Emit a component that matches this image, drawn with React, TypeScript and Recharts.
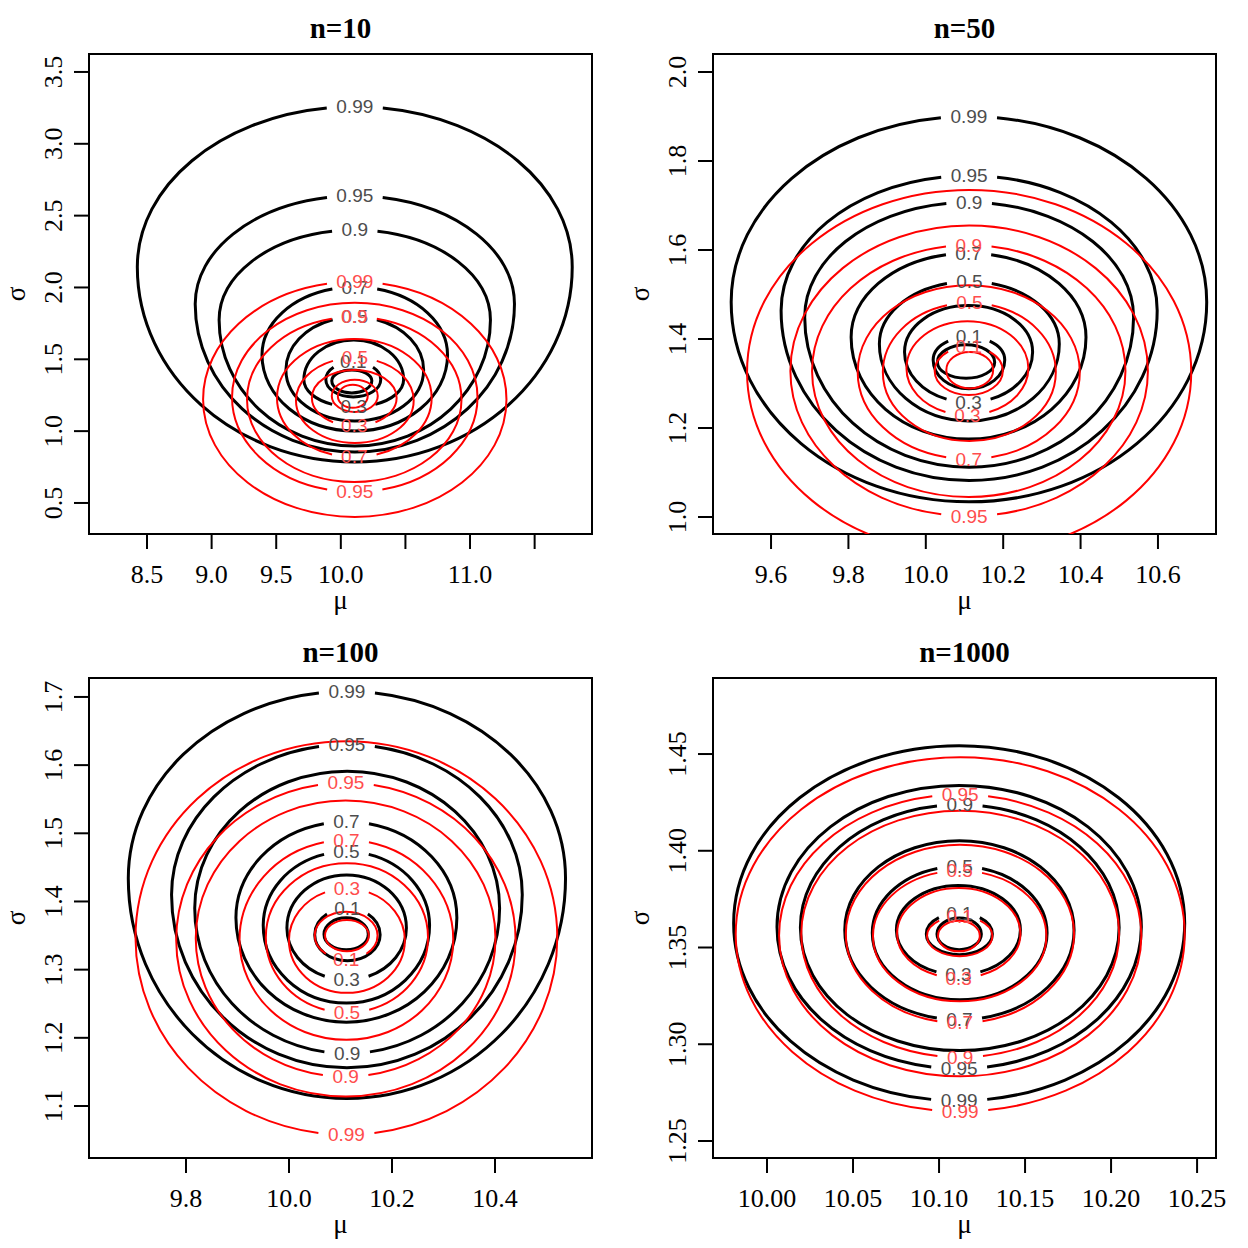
import React from "react";
import { ComposedChart, Line, Scatter, XAxis, YAxis, ReferenceArea } from "recharts";

// One contour ring:
// [label, mu at left edge, mu at right edge, sigma at top, sigma at bottom, sigma where widest, label side]
type Ring = [string, number, number, number, number, number, "t" | "b" | ""];

const n10Black: Ring[] = [
  ["0.99", 8.425, 11.791, 3.258, 0.786, 2.143, "t"],
  ["0.95", 8.873, 11.344, 2.638, 0.855, 1.885, "t"],
  ["0.9", 9.058, 11.158, 2.4, 0.897, 1.774, "t"],
  ["0.7", 9.39, 10.826, 2.003, 1.001, 1.53, "t"],
  ["0.5", 9.575, 10.641, 1.795, 1.071, 1.426, "t"],
  ["0.3", 9.714, 10.486, 1.635, 1.168, 1.357, "b"],
  ["0.1", 9.884, 10.309, 1.482, 1.238, 1.36, "t"],
  ["", 9.93, 10.24, 1.426, 1.266, 1.35, ""],
];
const n10Red: Ring[] = [
  ["0.99", 8.934, 11.282, 2.039, 0.403, 1.221, "t"],
  ["0.95", 9.158, 11.058, 1.893, 0.577, 1.235, "b"],
  ["0.9", 9.274, 10.934, 1.795, 0.646, 1.221, "t"],
  ["0.7", 9.506, 10.703, 1.642, 0.82, 1.231, "b"],
  ["0.5", 9.653, 10.564, 1.51, 0.918, 1.214, "t"],
  ["0.3", 9.776, 10.432, 1.426, 1.036, 1.231, "b"],
  ["0.1", 9.93, 10.286, 1.357, 1.134, 1.245, ""],
  ["", 9.977, 10.208, 1.322, 1.162, 1.242, ""],
];

const n50Black: Ring[] = [
  ["0.99", 9.497, 10.726, 1.9, 1.034, 1.483, "t"],
  ["0.95", 9.626, 10.598, 1.767, 1.082, 1.464, "t"],
  ["0.9", 9.687, 10.537, 1.707, 1.112, 1.449, "t"],
  ["0.7", 9.807, 10.414, 1.593, 1.175, 1.404, "t"],
  ["0.5", 9.88, 10.345, 1.529, 1.216, 1.389, "t"],
  ["0.3", 9.945, 10.276, 1.475, 1.258, 1.371, "b"],
  ["0.1", 10.019, 10.204, 1.405, 1.288, 1.353, "t"],
  ["", 10.03, 10.178, 1.387, 1.312, 1.348, ""],
];
const n50Red: Ring[] = [
  ["0.99", 9.538, 10.686, 1.735, 0.917, 1.326, ""],
  ["0.95", 9.65, 10.574, 1.655, 1.002, 1.328, "b"],
  ["0.9", 9.706, 10.516, 1.611, 1.045, 1.328, "t"],
  ["0.7", 9.824, 10.398, 1.521, 1.13, 1.326, "b"],
  ["0.5", 9.889, 10.336, 1.481, 1.171, 1.326, "t"],
  ["0.3", 9.95, 10.265, 1.44, 1.229, 1.334, "b"],
  ["0.1", 10.023, 10.199, 1.383, 1.274, 1.328, "t"],
  ["", 10.053, 10.174, 1.371, 1.289, 1.33, ""],
];

const n100Black: Ring[] = [
  ["0.99", 9.688, 10.537, 1.708, 1.111, 1.434, "t"],
  ["0.95", 9.772, 10.453, 1.63, 1.156, 1.41, "t"],
  ["0.9", 9.817, 10.409, 1.591, 1.177, 1.39, "b"],
  ["0.7", 9.897, 10.326, 1.517, 1.223, 1.376, "t"],
  ["0.5", 9.95, 10.273, 1.473, 1.251, 1.365, "t"],
  ["0.3", 9.996, 10.228, 1.439, 1.285, 1.361, "b"],
  ["0.1", 10.05, 10.177, 1.39, 1.313, 1.351, "t"],
  ["", 10.068, 10.154, 1.376, 1.329, 1.352, ""],
];
const n100Red: Ring[] = [
  ["0.99", 9.702, 10.521, 1.635, 1.058, 1.347, "b"],
  ["0.95", 9.781, 10.44, 1.574, 1.114, 1.344, "t"],
  ["0.9", 9.819, 10.401, 1.548, 1.143, 1.346, "b"],
  ["0.7", 9.904, 10.319, 1.49, 1.197, 1.344, "t"],
  ["0.5", 9.955, 10.27, 1.456, 1.237, 1.347, "b"],
  ["0.3", 10.0, 10.225, 1.419, 1.266, 1.343, "t"],
  ["0.1", 10.05, 10.172, 1.385, 1.315, 1.35, "b"],
  ["", 10.07, 10.155, 1.373, 1.327, 1.35, ""],
];

const n1000Black: Ring[] = [
  ["0.99", 9.9806, 10.2428, 1.4543, 1.2708, 1.3625, "b"],
  ["0.95", 10.0058, 10.2176, 1.4338, 1.2874, 1.3606, "b"],
  ["0.9", 10.0194, 10.2047, 1.4238, 1.2967, 1.3603, "t"],
  ["0.7", 10.0452, 10.1785, 1.4052, 1.3127, 1.359, "b"],
  ["0.5", 10.0612, 10.1628, 1.392, 1.323, 1.3575, "t"],
  ["0.3", 10.0752, 10.1473, 1.3821, 1.3359, 1.359, "b"],
  ["0.1", 10.0926, 10.131, 1.3678, 1.3463, 1.357, "t"],
  ["", 10.0988, 10.1246, 1.3652, 1.3489, 1.357, ""],
];
const n1000Red: Ring[] = [
  ["0.99", 9.9818, 10.2428, 1.4483, 1.2653, 1.3568, "b"],
  ["0.95", 10.007, 10.2176, 1.429, 1.2834, 1.3562, "t"],
  ["0.9", 10.0199, 10.2047, 1.4207, 1.2933, 1.357, "b"],
  ["0.7", 10.0458, 10.1785, 1.4031, 1.311, 1.357, "b"],
  ["0.5", 10.0616, 10.1624, 1.3897, 1.3222, 1.356, "t"],
  ["0.3", 10.0756, 10.1473, 1.3807, 1.3342, 1.357, "b"],
  ["0.1", 10.093, 10.131, 1.3661, 1.3455, 1.356, "t"],
  ["", 10.0994, 10.1237, 1.3638, 1.348, 1.356, ""],
];

// axes
const n10XTicks = [8.5, 9, 9.5, 10, 10.5, 11, 11.5];
const n10XLabels = ["8.5", "9.0", "9.5", "10.0", "", "11.0", ""];
const n10YTicks = [0.5, 1, 1.5, 2, 2.5, 3, 3.5];
const n10YLabels = ["0.5", "1.0", "1.5", "2.0", "2.5", "3.0", "3.5"];

const n50XTicks = [9.6, 9.8, 10.0, 10.2, 10.4, 10.6];
const n50XLabels = ["9.6", "9.8", "10.0", "10.2", "10.4", "10.6"];
const n50YTicks = [1.0, 1.2, 1.4, 1.6, 1.8, 2.0];
const n50YLabels = ["1.0", "1.2", "1.4", "1.6", "1.8", "2.0"];

const n100XTicks = [9.8, 10.0, 10.2, 10.4];
const n100XLabels = ["9.8", "10.0", "10.2", "10.4"];
const n100YTicks = [1.1, 1.2, 1.3, 1.4, 1.5, 1.6, 1.7];
const n100YLabels = ["1.1", "1.2", "1.3", "1.4", "1.5", "1.6", "1.7"];

const n1000XTicks = [10.0, 10.05, 10.1, 10.15, 10.2, 10.25];
const n1000XLabels = ["10.00", "10.05", "10.10", "10.15", "10.20", "10.25"];
const n1000YTicks = [1.25, 1.3, 1.35, 1.4, 1.45];
const n1000YLabels = ["1.25", "1.30", "1.35", "1.40", "1.45"];

const SERIF = '"Palatino Linotype", Palatino, "Liberation Serif", serif';
const SANS = '"Liberation Sans", Arial, sans-serif';
const LABEL_SIZE = 19;
const K = 0.5523;

type Pt = [number, number];

const lerp = (a: Pt, b: Pt, t: number): Pt => [a[0] + (b[0] - a[0]) * t, a[1] + (b[1] - a[1]) * t];

function split(c: Pt[], t: number): [Pt[], Pt[]] {
  const p01 = lerp(c[0], c[1], t);
  const p12 = lerp(c[1], c[2], t);
  const p23 = lerp(c[2], c[3], t);
  const p012 = lerp(p01, p12, t);
  const p123 = lerp(p12, p23, t);
  const m = lerp(p012, p123, t);
  return [[c[0], p01, p012, m], [m, p123, p23, c[3]]];
}

// quarter of an oval between an extreme point a and the next extreme point b
function quarter(a: Pt, b: Pt, aFlat: boolean): Pt[] {
  if (aFlat) return [a, [a[0] + K * (b[0] - a[0]), a[1]], [b[0], b[1] + K * (a[1] - b[1])], b];
  return [a, [a[0], a[1] + K * (b[1] - a[1])], [b[0] + K * (a[0] - b[0]), b[1]], b];
}

// curve factory: gets the four scaled extreme points (top, right, bottom, left)
// and draws a closed oval, broken where the contour label sits
function ringCurve(gap: number, side: "t" | "b" | "") {
  return (ctx: any) => {
    let pts: Pt[] = [];
    return {
      areaStart() {},
      areaEnd() {},
      lineStart() {
        pts = [];
      },
      point(x: number, y: number) {
        pts.push([x, y]);
      },
      lineEnd() {
        if (pts.length < 4) return;
        const [T, R, B, L] = pts;
        let segs =
          side === "b"
            ? [quarter(B, L, true), quarter(L, T, false), quarter(T, R, true), quarter(R, B, false)]
            : [quarter(T, R, true), quarter(R, B, false), quarter(B, L, true), quarter(L, T, false)];
        if (gap > 0) {
          const d0 = Math.abs(segs[0][3][0] - segs[0][0][0]);
          const d3 = Math.abs(segs[3][3][0] - segs[3][0][0]);
          const t0 = Math.min(0.6, gap / 2 / (3 * K * d0 || 1));
          const t1 = Math.min(0.6, gap / 2 / (3 * K * d3 || 1));
          segs[0] = split(segs[0], t0)[1];
          segs[3] = split(segs[3], 1 - t1)[0];
        }
        ctx.moveTo(segs[0][0][0], segs[0][0][1]);
        segs.forEach((s) => ctx.bezierCurveTo(s[1][0], s[1][1], s[2][0], s[2][1], s[3][0], s[3][1]));
        if (gap <= 0) ctx.closePath();
      },
    };
  };
}

function labelWidth(s: string) {
  let w = 0;
  for (const ch of s) w += ch === "." ? 0.278 : 0.556;
  return w * LABEL_SIZE;
}

const ringPoints = (r: Ring) => {
  const mid = (r[1] + r[2]) / 2;
  return [
    { mu: mid, sigma: r[3] },
    { mu: r[2], sigma: r[5] },
    { mu: mid, sigma: r[4] },
    { mu: r[1], sigma: r[5] },
  ];
};

const labelPoints = (rings: Ring[]) =>
  rings
    .filter((r) => r[6])
    .map((r) => ({ mu: (r[1] + r[2]) / 2, sigma: r[6] === "t" ? r[3] : r[4], text: r[0] }));

function pick(ticks: number[], labels: string[], v: number) {
  const i = ticks.findIndex((t) => Math.abs(t - v) < 1e-9);
  return i >= 0 ? labels[i] : "";
}

interface PanelProps {
  title: string;
  left: number;
  top: number;
  xDomain: [number, number];
  yDomain: [number, number];
  xTicks: number[];
  xLabels: string[];
  yTicks: number[];
  yLabels: string[];
  black: Ring[];
  red: Ring[];
}

function Panel({ title, left, top, xDomain, yDomain, xTicks, xLabels, yTicks, yLabels, black, red }: PanelProps) {
  const rings = (list: Ring[], color: string, width: number, prefix: string) =>
    list.map((r, i) => (
      <Line
        key={prefix + i}
        data={ringPoints(r)}
        dataKey="sigma"
        type={ringCurve(r[6] ? labelWidth(r[0]) + 20 : 0, r[6]) as any}
        stroke={color}
        strokeWidth={width}
        dot={false}
        activeDot={false}
        legendType="none"
        isAnimationActive={false}
      />
    ));

  const labels = (list: Ring[], fill: string) => (
    <Scatter
      data={labelPoints(list)}
      dataKey="sigma"
      isAnimationActive={false}
      shape={(p: any) => (
        <text
          x={p.cx}
          y={p.cy}
          textAnchor="middle"
          dominantBaseline="central"
          fontFamily={SANS}
          fontSize={LABEL_SIZE}
          fill={fill}
        >
          {p.payload.text}
        </text>
      )}
    />
  );

  return (
    <div style={{ position: "absolute", left, top, width: 624, height: 624 }}>
      <ComposedChart width={624} height={624} margin={{ top: 54, right: 32, bottom: 0, left: 0 }}>
        <XAxis
          type="number"
          dataKey="mu"
          domain={xDomain}
          allowDataOverflow
          ticks={xTicks}
          interval={0}
          height={90}
          axisLine={false}
          tickSize={15}
          tickMargin={16}
          tickLine={{ stroke: "#000", strokeWidth: 2 }}
          tick={(p: any) => (
            <text x={p.x} y={p.y} dy="0.7em" textAnchor="middle" fontFamily={SERIF} fontSize={26} fill="#000">
              {pick(xTicks, xLabels, p.payload.value)}
            </text>
          )}
        />
        <YAxis
          type="number"
          dataKey="sigma"
          domain={yDomain}
          allowDataOverflow
          ticks={yTicks}
          interval={0}
          width={89}
          axisLine={false}
          tickSize={15}
          tickMargin={12}
          tickLine={{ stroke: "#000", strokeWidth: 2 }}
          tick={(p: any) => (
            <text
              x={p.x}
              y={p.y}
              transform={`rotate(-90 ${p.x} ${p.y})`}
              textAnchor="middle"
              fontFamily={SERIF}
              fontSize={26}
              fill="#000"
            >
              {pick(yTicks, yLabels, p.payload.value)}
            </text>
          )}
        />
        <ReferenceArea
          x1={xDomain[0]}
          x2={xDomain[1]}
          y1={yDomain[0]}
          y2={yDomain[1]}
          fill="none"
          fillOpacity={0}
          stroke="#000"
          strokeWidth={2}
          ifOverflow="visible"
        />
        {rings(black, "#000", 3, "k")}
        {labels(black, "#4d4d4d")}
        {rings(red, "#ff0000", 2, "r")}
        {labels(red, "#ff4d4d")}
      </ComposedChart>
      <svg width={624} height={624} style={{ position: "absolute", left: 0, top: 0, pointerEvents: "none" }}>
        <text x={340.5} y={38} textAnchor="middle" fontFamily={SERIF} fontWeight="bold" fontSize={29} fill="#000">
          {title}
        </text>
        <text x={340.5} y={609} textAnchor="middle" fontFamily={SERIF} fontSize={27} fill="#000">
          μ
        </text>
        <text
          x={25}
          y={294}
          transform="rotate(-90 25 294)"
          textAnchor="middle"
          fontFamily={SERIF}
          fontSize={27}
          fill="#000"
        >
          σ
        </text>
      </svg>
    </div>
  );
}

export default function App() {
  return (
    <div style={{ position: "absolute", left: 0, top: 0, width: 1248, height: 1248, background: "#fff" }}>
      <Panel
        title="n=10"
        left={0}
        top={0}
        xDomain={[8.051, 11.944]}
        yDomain={[0.284, 3.625]}
        xTicks={n10XTicks}
        xLabels={n10XLabels}
        yTicks={n10YTicks}
        yLabels={n10YLabels}
        black={n10Black}
        red={n10Red}
      />
      <Panel
        title="n=50"
        left={624}
        top={0}
        xDomain={[9.45, 10.75]}
        yDomain={[0.9618, 2.0404]}
        xTicks={n50XTicks}
        xLabels={n50XLabels}
        yTicks={n50YTicks}
        yLabels={n50YLabels}
        black={n50Black}
        red={n50Red}
      />
      <Panel
        title="n=100"
        left={0}
        top={624}
        xDomain={[9.6117, 10.5884]}
        yDomain={[1.0237, 1.7278]}
        xTicks={n100XTicks}
        xLabels={n100XLabels}
        yTicks={n100YTicks}
        yLabels={n100YLabels}
        black={n100Black}
        red={n100Red}
      />
      <Panel
        title="n=1000"
        left={624}
        top={624}
        xDomain={[9.9686, 10.261]}
        yDomain={[1.2412, 1.4893]}
        xTicks={n1000XTicks}
        xLabels={n1000XLabels}
        yTicks={n1000YTicks}
        yLabels={n1000YLabels}
        black={n1000Black}
        red={n1000Red}
      />
    </div>
  );
}
